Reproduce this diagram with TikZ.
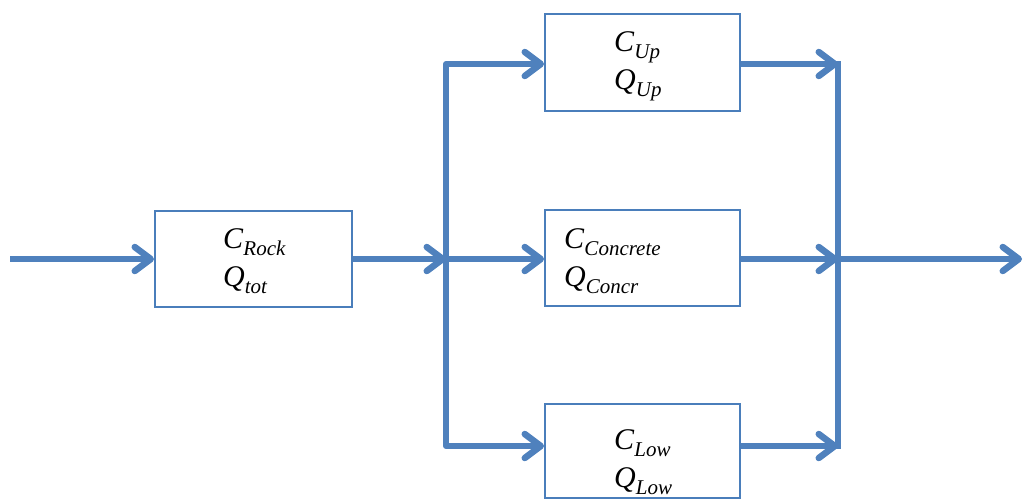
\documentclass[tikz,border=0pt]{standalone}
\usepackage{fontspec}
\setmainfont{Liberation Serif}
\usetikzlibrary{arrows.meta}
\definecolor{flow}{HTML}{4F81BD}
\definecolor{boxline}{HTML}{4A7EBB}
\newcommand{\varsub}[2]{\textit{#1}\raisebox{-0.22em}{\fontsize{21}{21}\selectfont\textit{#2}}}
\tikzset{
  flowline/.style={draw=flow, line width=6pt, line join=round},
  arr/.style={flowline, -{Straight Barb[length=16pt,width=24pt,line width=6.5pt,round]}},
  block/.style={draw=boxline, line width=2pt, fill=white, rectangle, inner sep=0pt},
  lbl/.style={anchor=west, align=left, inner sep=0pt, font=\fontsize{30}{38}\selectfont}
}
\begin{document}
\begin{tikzpicture}[x=1pt,y=-1pt]
\useasboundingbox (0,0) rectangle (1024,499);
% boxes
\node[block, minimum width=197pt, minimum height=96pt] (rock) at (253.5,259) {};
\node[block, minimum width=195pt, minimum height=97pt] (up) at (642.5,62.5) {};
\node[block, minimum width=195pt, minimum height=96pt] (conc) at (642.5,258) {};
\node[block, minimum width=195pt, minimum height=94pt] (low) at (642.5,451) {};
% labels
\node[lbl] (trock) at (223,261) {\varsub{C}{Rock}\\\varsub{Q}{tot}};
\node[lbl] (tup) at (614,66) {\varsub{C}{Up}\\\varsub{Q}{Up}};
\node[lbl] (tconc) at (564,261) {\varsub{C}{Concrete}\\\varsub{Q}{Concr}};
\node[lbl] (tlow) at (614,462) {\varsub{C}{Low}\\\varsub{Q}{Low}};
% junctions
\coordinate (in) at (10,259);
\coordinate (j) at (446,259);
\coordinate (jt) at (446,64);
\coordinate (jb) at (446,446);
\coordinate (rt) at (838,64);
\coordinate (rm) at (838,259);
\coordinate (rb) at (838,446);
\coordinate (out) at (1022,259);
% connectors
\draw[arr] (in) -- (rock.west);
\draw[arr] (rock.east) -- (j);
\draw[arr] (j) -- (jt) -- (up.west |- jt);
\draw[arr] (j) -- (conc.west |- j);
\draw[arr] (j) -- (jb) -- (low.west |- jb);
\draw[arr] (up.east |- rt) -- (rt);
\draw[arr] (conc.east |- rm) -- (rm);
\draw[arr] (low.east |- rb) -- (rb);
\draw[flowline, line cap=rect] (rt) -- (rb);
\draw[arr] (rm) -- (out);
\end{tikzpicture}
\end{document}
